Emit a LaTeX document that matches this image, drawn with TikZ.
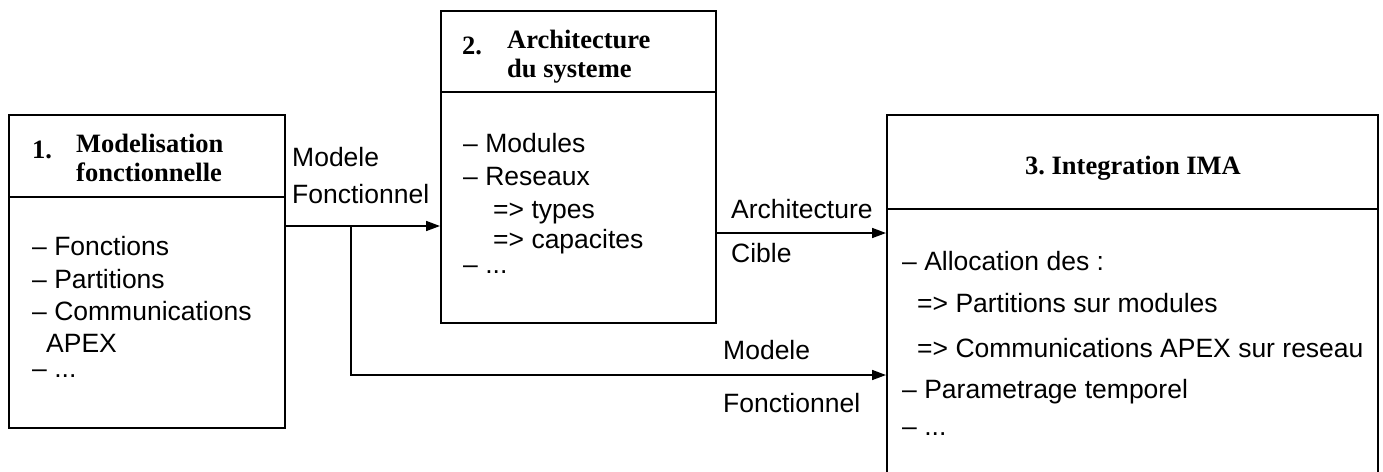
\documentclass[tikz,border=0pt]{standalone}
\usepackage{fontspec}
\setmainfont{Liberation Serif}
\setsansfont{Liberation Sans}
\usetikzlibrary{arrows.meta}
\tikzset{
  box/.style={draw, line width=1.6pt, rectangle, anchor=north west, inner sep=0pt},
  title/.style={font=\bfseries\fontsize{26.5}{29}\selectfont, anchor=base west, inner sep=0pt},
  item/.style={font=\sffamily\fontsize{26.5}{32}\selectfont, anchor=base west, inner sep=0pt},
  flow/.style={->, line width=1.6pt}
}
\begin{document}
\begin{tikzpicture}[x=1pt, y=-1pt, >={Triangle[length=14pt,width=10pt]}]
    \useasboundingbox (0,0) rectangle (1383,471);
    \clip (0,0) rectangle (1383,471);
    % boxes
    \node[box, minimum width=276pt, minimum height=313pt] (mod) at (8,114) {};
    \node[box, minimum width=275pt, minimum height=312pt] (arch) at (440,10) {};
    \node[box, minimum width=491pt, minimum height=380pt] (ima) at (886,114) {};
    \draw[line width=1.6pt] (mod.west |- 0,197) -- (mod.east |- 0,197);
    \draw[line width=1.6pt] (arch.west |- 0,92) -- (arch.east |- 0,92);
    \draw[line width=1.6pt] (ima.west |- 0,209) -- (ima.east |- 0,209);
    % titles
    \node[title] (mod-num) at (32,158) {1.};
    \node[title] (mod-t1) at (76,152) {Modelisation};
    \node[title] (mod-t2) at (76,181) {fonctionnelle};
    \node[title] (arch-num) at (462,54) {2.};
    \node[title] (arch-t1) at (507,48) {Architecture};
    \node[title] (arch-t2) at (507,77) {du systeme};
    \node[title, anchor=base] (ima-t) at (1133,174) {3.\ Integration IMA};
    % contents
    \foreach \x/\y/\t [count=\i] in {32/255/{– Fonctions}, 32/288/{– Partitions},
        32/320/{– Communications}, 46/352/{APEX}, 32/377/{– ...}}
        \node[item] (mod-\i) at (\x,\y) {\t};
    \foreach \x/\y/\t [count=\i] in {463/152/{– Modules}, 463/185/{– Reseaux},
        493/218/{=> types}, 493/248/{=> capacites}, 463/273/{– ...}}
        \node[item] (arch-\i) at (\x,\y) {\t};
    \foreach \x/\y/\t [count=\i] in {902/270/{– Allocation des :}, 917/312/{=> Partitions sur modules},
        917/357/{=> Communications APEX sur reseau}, 902/398/{– Parametrage temporel}, 902/435/{– ...}}
        \node[item] (ima-\i) at (\x,\y) {\t};
    % flows
    \coordinate (split) at (351,226);
    \draw[flow] (mod.east |- split) -- (arch.west |- split);
    \draw[flow] (split) |- (ima.west |- 0,375);
    \draw[flow] (arch.east |- 0,233) -- (ima.west |- 0,233);
    \node[item] (lbl-mf1) at (292,166) {Modele};
    \node[item] (lbl-mf2) at (292,203) {Fonctionnel};
    \node[item] (lbl-ac1) at (731,218) {Architecture};
    \node[item] (lbl-ac2) at (731,262) {Cible};
    \node[item] (lbl-mf3) at (723,359) {Modele};
    \node[item] (lbl-mf4) at (723,412) {Fonctionnel};
\end{tikzpicture}
\end{document}
